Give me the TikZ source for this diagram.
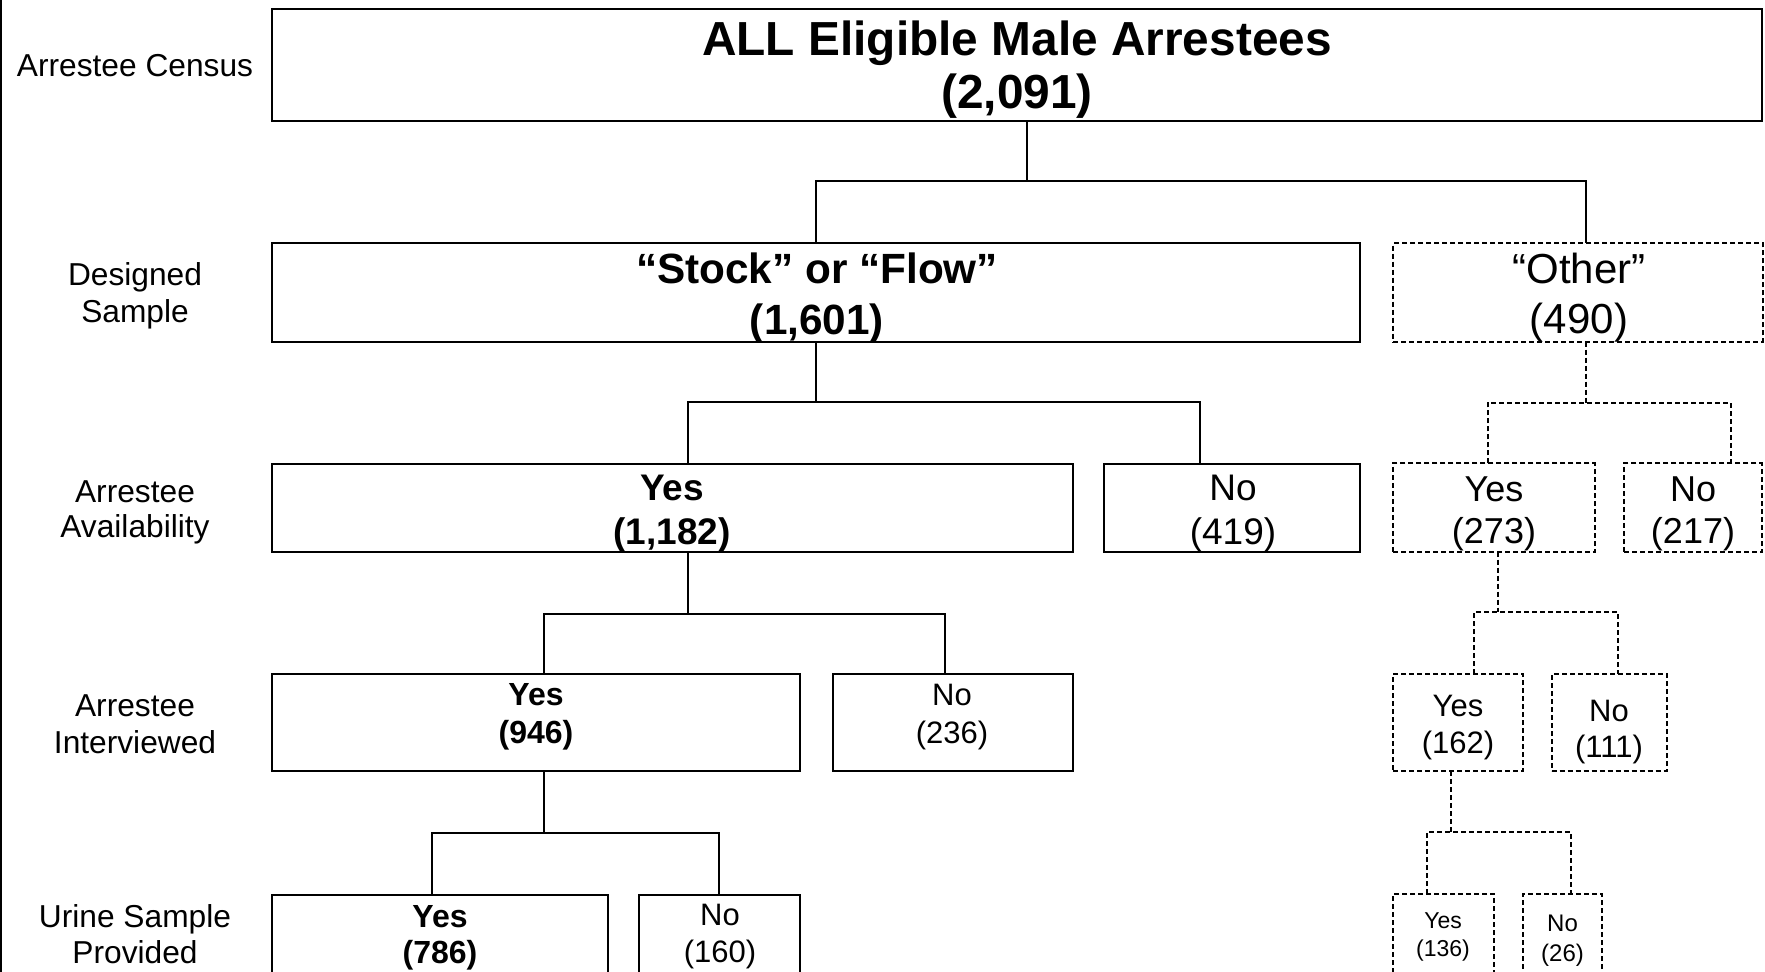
\documentclass[tikz,border=0pt]{standalone}
\usepackage{fontspec}
\usetikzlibrary{calc}
\setmainfont{Liberation Sans}
\begin{document}
\begin{tikzpicture}[x=1pt,y=-1pt,
  sbox/.style={draw,line width=2pt,rectangle,inner sep=0pt,outer sep=0pt},
  dbox/.style={sbox,dash pattern=on 5pt off 3pt},
  conn/.style={line width=2pt},
  dconn/.style={line width=2pt,dash pattern=on 5pt off 3pt},
  txt/.style={align=center,inner sep=0pt,outer sep=0pt},
  lbl/.style={align=center,inner sep=0pt,font=\fontsize{31.7}{36}\selectfont}]
\useasboundingbox (0,0) rectangle (1765,972);
\clip (0,0) rectangle (1765,972);
\fill[white] (0,0) rectangle (1765,972);
\draw[line width=1.5pt] (0.75,0) -- (0.75,972);

% left labels
\node[lbl] (lCensus) at (135,66) {Arrestee Census};
\node[lbl,font=\fontsize{31.7}{37}\selectfont] (lDesigned) at (135,296) {Designed\\Sample};
\node[lbl,font=\fontsize{31.7}{35}\selectfont] (lAvail) at (135,512) {Arrestee\\Availability};
\node[lbl,font=\fontsize{31.7}{37}\selectfont] (lInterv) at (135,724) {Arrestee\\Interviewed};
\node[lbl,font=\fontsize{31.7}{36}\selectfont] (lUrine) at (135,934) {Urine Sample\\Provided};

% boxes
\node[sbox,minimum width=1490pt,minimum height=111.4pt] (top) at (1016.7,65) {};
\draw[line width=1.5pt] ($(top.north east)+(0.9,-0.9)$) -- ($(top.south east)+(0.9,0.9)$);
\node[sbox,minimum width=1088.3pt,minimum height=98.7pt] (stock) at (815.85,292.35) {};
\node[dbox,minimum width=369.7pt,minimum height=98.4pt] (other) at (1578.15,292.5) {};
\node[sbox,minimum width=801.3pt,minimum height=88pt] (yesA) at (672.35,508) {};
\node[sbox,minimum width=256pt,minimum height=88pt] (noA) at (1232,508) {};
\node[dbox,minimum width=202pt,minimum height=88.4pt] (oyesA) at (1494,507.5) {};
\node[dbox,minimum width=138pt,minimum height=88.4pt] (onoA) at (1693,507.5) {};
\node[sbox,minimum width=528.3pt,minimum height=97pt] (yesB) at (535.85,722.5) {};
\node[sbox,minimum width=240pt,minimum height=97pt] (noB) at (953,722.5) {};
\node[dbox,minimum width=130pt,minimum height=97pt] (oyesB) at (1458,722.5) {};
\node[dbox,minimum width=115pt,minimum height=97pt] (onoB) at (1609.2,722.5) {};
\node[sbox,minimum width=336.3pt,minimum height=115pt] (yesC) at (439.85,952.5) {};
\node[sbox,minimum width=160.6pt,minimum height=115pt] (noC) at (719.7,952.5) {};
\node[dbox,minimum width=101pt,minimum height=116pt] (oyesC) at (1443.5,952) {};
\node[dbox,minimum width=79pt,minimum height=116pt] (onoC) at (1562.2,952) {};

% texts
\node[txt,font=\fontsize{47.8}{53}\selectfont\bfseries] (tTop) at (1017,70) {ALL Eligible Male Arrestees\\(2,091)};
\node[txt,font=\fontsize{42.3}{50.6}\selectfont\bfseries] (tStock) at (817,298) {“Stock” or “Flow”\\(1,601)};
\node[txt,font=\fontsize{42}{50}\selectfont] (tOther) at (1579,298) {“Other”\\(490)};
\node[txt,font=\fontsize{37}{44}\selectfont\bfseries] (tYesA) at (672,514) {Yes\\(1,182)};
\node[txt,font=\fontsize{37}{44}\selectfont] (tNoA) at (1233,514) {No\\(419)};
\node[txt,font=\fontsize{36}{42}\selectfont] (tOyesA) at (1494,514) {Yes\\(273)};
\node[txt,font=\fontsize{36}{42}\selectfont] (tOnoA) at (1693,514) {No\\(217)};
\node[txt,font=\fontsize{32}{37.6}\selectfont\bfseries] (tYesB) at (536,717) {Yes\\(946)};
\node[txt,font=\fontsize{31}{37.6}\selectfont] (tNoB) at (952,717) {No\\(236)};
\node[txt,font=\fontsize{31}{37}\selectfont] (tOyesB) at (1458,728) {Yes\\(162)};
\node[txt,font=\fontsize{31}{36.7}\selectfont] (tOnoB) at (1609,732) {No\\(111)};
\node[txt,font=\fontsize{32}{36}\selectfont\bfseries] (tYesC) at (440,938) {Yes\\(786)};
\node[txt,font=\fontsize{31}{37}\selectfont] (tNoC) at (720,937) {No\\(160)};
\node[txt,font=\fontsize{23}{28}\selectfont] (tOyesC) at (1443,937) {Yes\\(136)};
\node[txt,font=\fontsize{24}{29.7}\selectfont] (tOnoC) at (1562.5,941) {No\\(26)};

% junction coordinates
\coordinate (j1) at (1027,181);
\coordinate (b1l) at (816,181);
\coordinate (b1r) at (1586,181);
\coordinate (j2) at (816,402);
\coordinate (b2l) at (688,402);
\coordinate (b2r) at (1200,402);
\coordinate (j3) at (1586,402.7);
\coordinate (b3l) at (1488,402.7);
\coordinate (b3r) at (1731,402.7);
\coordinate (j4) at (688,613.5);
\coordinate (b4l) at (543.7,613.5);
\coordinate (b4r) at (944.5,613.5);
\coordinate (j5) at (1498,612);
\coordinate (b5l) at (1474,612);
\coordinate (b5r) at (1618,612);
\coordinate (j6) at (543.7,833);
\coordinate (b6l) at (432,833);
\coordinate (b6r) at (719,833);
\coordinate (j7) at (1450.7,832);
\coordinate (b7l) at (1427,832);
\coordinate (b7r) at (1570.7,832);

% connectors
\draw[conn] (top.south -| j1) -- (j1);
\draw[conn] (stock.north -| b1l) |- (b1r) -- (other.north -| b1r);

\draw[conn] (stock.south -| j2) -- (j2);
\draw[conn] (yesA.north -| b2l) |- (b2r) -- (noA.north -| b2r);

\draw[dconn] (other.south -| j3) -- (j3);
\draw[dconn] (oyesA.north -| b3l) |- (b3r) -- (onoA.north -| b3r);

\draw[conn] (yesA.south -| j4) -- (j4);
\draw[conn] (yesB.north -| b4l) |- (b4r) -- (noB.north -| b4r);

\draw[dconn] (oyesA.south -| j5) -- (j5);
\draw[dconn] (oyesB.north -| b5l) |- (b5r) -- (onoB.north -| b5r);

\draw[conn] (yesB.south -| j6) -- (j6);
\draw[conn] (yesC.north -| b6l) |- (b6r) -- (noC.north -| b6r);

\draw[dconn] (oyesB.south -| j7) -- (j7);
\draw[dconn] (oyesC.north -| b7l) |- (b7r) -- (onoC.north -| b7r);
\end{tikzpicture}
\end{document}
